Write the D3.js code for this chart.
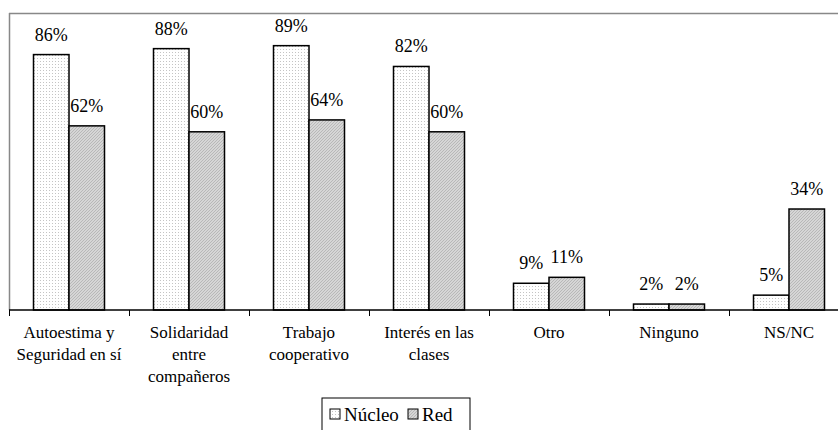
<!DOCTYPE html>
<html>
<head>
  <meta charset="utf-8">
  <script src="https://d3js.org/d3.v7.min.js"></script>
  <style>
    body { margin: 0; }
    svg text { font-family: "Liberation Serif", Tinos, "Times New Roman", serif !important; }
  </style>
</head>
<body>
  <div id="chart"></div>
  <script>
    const categories = [
      ["Autoestima y", "Seguridad en sí"],
      ["Solidaridad", "entre", "compañeros"],
      ["Trabajo", "cooperativo"],
      ["Interés en las", "clases"],
      ["Otro"],
      ["Ninguno"],
      ["NS/NC"]
    ];
    const series = ["Núcleo", "Red"];
    const nucleo = [86, 88, 89, 82, 9, 2, 5];
    const red = [62, 60, 64, 60, 11, 2, 34];

    const W = 838, H = 430;
    const plotLeft = 9, plotTop = 13, plotBottom = 310;
    const serifFont = "Liberation Serif, Tinos, Times New Roman, serif";

    const svg = d3.select("#chart").append("svg")
      .attr("width", W)
      .attr("height", H)
      .attr("font-family", serifFont);

    const defs = svg.append("defs");

    // dotted fill for Núcleo
    const pDots = defs.append("pattern")
      .attr("id", "dots")
      .attr("width", 3).attr("height", 3)
      .attr("patternUnits", "userSpaceOnUse");
    pDots.append("rect").attr("width", 3).attr("height", 3).attr("fill", "#fff");
    pDots.append("rect").attr("x", 1).attr("y", 1).attr("width", 1).attr("height", 1).attr("fill", "#c4c4c4");

    // hatched fill for Red
    const pHatch = defs.append("pattern")
      .attr("id", "hatch")
      .attr("width", 3).attr("height", 3)
      .attr("patternUnits", "userSpaceOnUse");
    pHatch.append("rect").attr("width", 3).attr("height", 3).attr("fill", "#d6d6d6");
    pHatch.append("path").attr("d", "M0,3 L3,0 M-1,1 L1,-1 M2,4 L4,2")
      .attr("stroke", "#b0b0b0").attr("stroke-width", 0.8);

    const fills = { "Núcleo": "url(#dots)", "Red": "url(#hatch)" };

    const x = d3.scaleBand()
      .domain(d3.range(categories.length))
      .range([plotLeft, plotLeft + 120 * categories.length]);

    const xIn = d3.scaleBand()
      .domain(series)
      .range([24.5, x.bandwidth() - 24.5]);

    const y = d3.scaleLinear()
      .domain([0, 100])
      .range([plotBottom, plotTop]);

    // plot frame, grey, top and left only
    svg.append("line")
      .attr("x1", plotLeft).attr("x2", W)
      .attr("y1", plotTop + 0.5).attr("y2", plotTop + 0.5)
      .attr("stroke", "#888").attr("stroke-width", 1.5);
    svg.append("line")
      .attr("x1", plotLeft + 0.5).attr("x2", plotLeft + 0.5)
      .attr("y1", plotTop).attr("y2", plotBottom)
      .attr("stroke", "#888").attr("stroke-width", 1.5);

    const rows = categories.map((c, i) => ({ i, values: [nucleo[i], red[i]] }));

    const groups = svg.selectAll(".grp")
      .data(rows)
      .enter().append("g")
      .attr("class", "grp")
      .attr("transform", d => `translate(${x(d.i)},0)`);

    groups.selectAll("rect")
      .data(d => d.values.map((v, k) => ({ s: series[k], v })))
      .enter().append("rect")
      .attr("x", d => xIn(d.s))
      .attr("y", d => y(d.v))
      .attr("width", xIn.bandwidth())
      .attr("height", d => plotBottom - y(d.v))
      .attr("fill", d => fills[d.s])
      .attr("stroke", "#000")
      .attr("stroke-width", 1.5);

    // value labels
    groups.selectAll(".val")
      .data(d => d.values.map((v, k) => ({ s: series[k], v })))
      .enter().append("text")
      .attr("class", "val")
      .attr("x", d => xIn(d.s) + xIn.bandwidth() / 2)
      .attr("y", d => y(d.v) - 14)
      .attr("text-anchor", "middle")
      .attr("font-family", serifFont)
      .attr("font-size", 18)
      .text(d => d.v + "%");

    // x axis
    const xAxis = svg.append("g")
      .attr("transform", `translate(0,${plotBottom})`);
    xAxis.append("line")
      .attr("x1", plotLeft).attr("x2", W)
      .attr("stroke", "#000").attr("stroke-width", 1.5);
    xAxis.selectAll(".tick")
      .data(d3.range(categories.length))
      .enter().append("line")
      .attr("x1", d => x(d) + 0.5).attr("x2", d => x(d) + 0.5)
      .attr("y1", 0).attr("y2", 6)
      .attr("stroke", "#000").attr("stroke-width", 1);

    // category labels, one text per line
    categories.forEach((lines, i) => {
      lines.forEach((ln, j) => {
        svg.append("text")
          .attr("x", x(i) + x.bandwidth() / 2)
          .attr("y", 338 + j * 22)
          .attr("text-anchor", "middle")
          .attr("font-family", serifFont)
          .attr("font-size", 17)
          .text(ln);
      });
    });

    // legend
    const lg = svg.append("g").attr("transform", "translate(322,398)");
    lg.append("rect")
      .attr("width", 148).attr("height", 40)
      .attr("fill", "#fff").attr("stroke", "#000").attr("stroke-width", 1);
    const items = [
      { s: series[0], x: 8 },
      { s: series[1], x: 86 }
    ];
    items.forEach(it => {
      lg.append("rect")
        .attr("x", it.x).attr("y", 11)
        .attr("width", 10).attr("height", 10)
        .attr("fill", fills[it.s]).attr("stroke", "#000").attr("stroke-width", 1);
      lg.append("text")
        .attr("x", it.x + 14).attr("y", 23)
        .attr("font-family", serifFont)
        .attr("font-size", 19)
        .text(it.s);
    });
  </script>
</body>
</html>
